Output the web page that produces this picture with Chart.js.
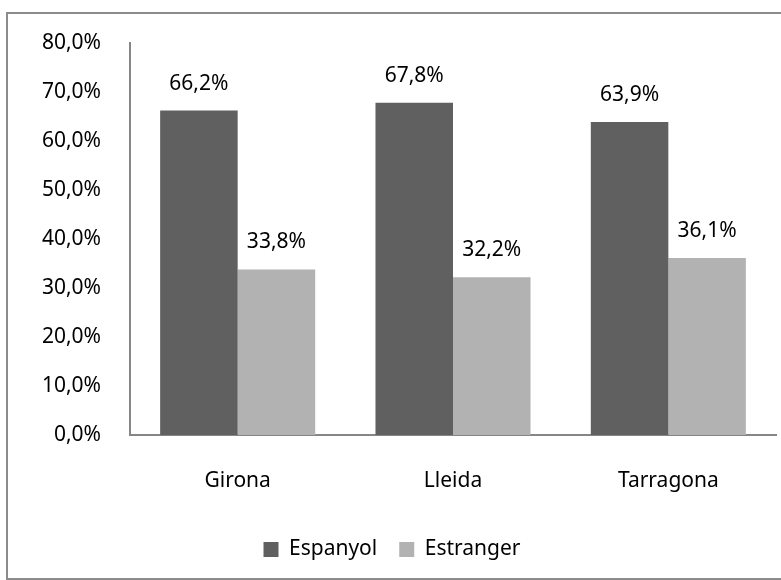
<!DOCTYPE html>
<html>
<head>
<meta charset="utf-8">
<script src="https://cdn.jsdelivr.net/npm/chart.js@4/dist/chart.umd.min.js"></script>
<style>
  html, body { margin: 0; padding: 0; background: #fff; }
  #box {
    position: absolute; left: 6px; top: 12px;
    width: 780px; height: 564px;
    border: 2px solid #8c8c8c; border-right: none;
    background: #fff;
  }
  #chart { display: block; }
</style>
</head>
<body>
<div id="box"><canvas id="chart" width="780" height="564"></canvas></div>
<script>
// Data
const provinces = ['Girona', 'Lleida', 'Tarragona'];
const espanyol = [66.2, 67.8, 63.9];
const estranger = [33.8, 32.2, 36.1];
const yTicks = [0, 10, 20, 30, 40, 50, 60, 70, 80];

const fontFamily = '"Noto Sans", "Open Sans", sans-serif';
const fontSize = 21;

function pct(v) {
  return v.toFixed(1).replace('.', ',') + '%';
}

// Value labels above every bar
const barLabels = {
  id: 'barLabels',
  afterDatasetsDraw(chart) {
    const ctx = chart.ctx;
    ctx.save();
    ctx.font = fontSize + 'px ' + fontFamily;
    ctx.fillStyle = '#000';
    ctx.textAlign = 'center';
    ctx.textBaseline = 'middle';
    chart.data.datasets.forEach((ds, i) => {
      chart.getDatasetMeta(i).data.forEach((bar, j) => {
        const p = bar.getProps(['x', 'y'], true);
        ctx.fillText(pct(ds.data[j]), p.x, p.y - 27);
      });
    });
    ctx.restore();
  }
};

const ctx = document.getElementById('chart').getContext('2d');
new Chart(ctx, {
  type: 'bar',
  data: {
    labels: provinces,
    datasets: [
      { label: 'Espanyol', data: espanyol, backgroundColor: '#606060' },
      { label: 'Estranger', data: estranger, backgroundColor: '#b2b2b2' }
    ]
  },
  options: {
    responsive: false,
    animation: false,
    events: [],
    categoryPercentage: 0.72,
    barPercentage: 1,
    layout: { padding: { top: 29, right: 12, left: 0, bottom: 8 } },
    plugins: {
      tooltip: { enabled: false },
      legend: {
        position: 'bottom',
        labels: {
          color: '#000',
          font: { size: fontSize, family: fontFamily },
          boxWidth: 15,
          boxHeight: 15,
          padding: 22
        }
      }
    },
    scales: {
      x: {
        grid: { display: false },
        border: { display: true, color: '#868686', width: 2 },
        ticks: { color: '#000', padding: 25, font: { size: fontSize, family: fontFamily } },
        afterFit(scale) { scale.height = 82; }
      },
      y: {
        min: 0,
        max: 80,
        afterBuildTicks(scale) { scale.ticks = yTicks.map(v => ({ value: v })); },
        grid: { display: false },
        border: { display: true, color: '#868686', width: 2 },
        ticks: {
          color: '#000',
          padding: 21,
          font: { size: fontSize, family: fontFamily },
          callback: v => pct(v)
        },
        afterFit(scale) {
          scale.width = 122;
          scale.paddingTop = 0;
          scale.paddingBottom = 0;
        }
      }
    }
  },
  plugins: [barLabels]
});
</script>
</body>
</html>
